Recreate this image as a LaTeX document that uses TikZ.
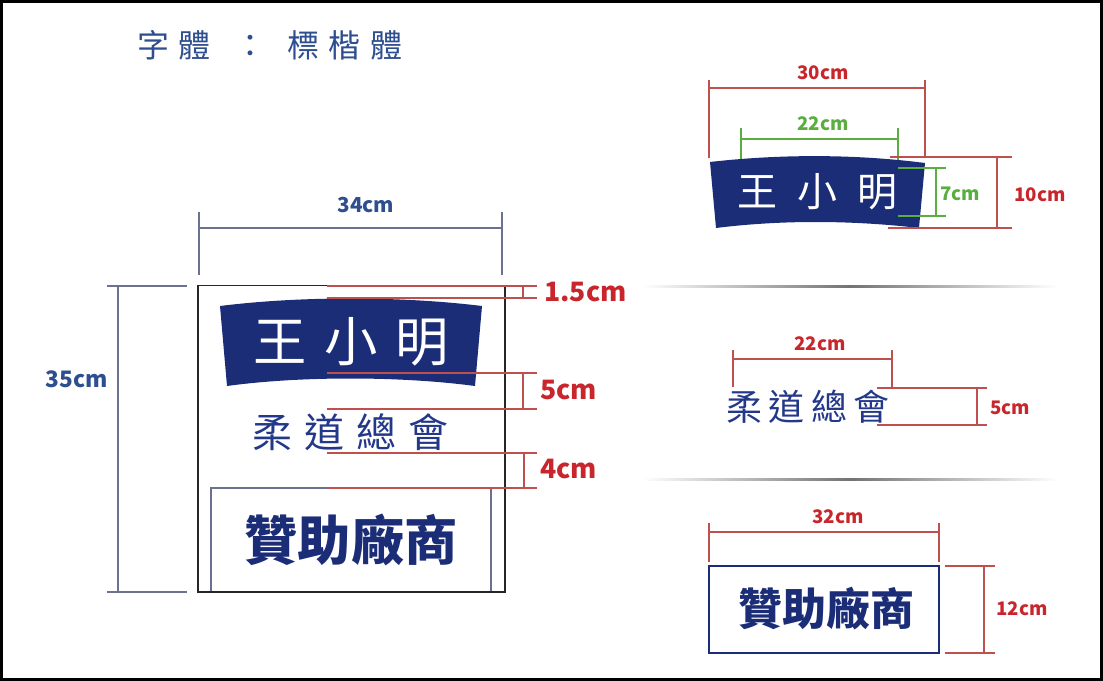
\documentclass[tikz,border=0pt]{standalone}
\usepackage{fontspec}
\newfontfamily\cjk{Noto Sans CJK TC}
\usetikzlibrary{calc}
\definecolor{navy}{HTML}{1C2D78}
\definecolor{txtblue}{HTML}{24388A}
\definecolor{dimblue}{HTML}{2E4F8F}
\definecolor{lineblue}{HTML}{6A7290}
\definecolor{dimred}{HTML}{C8262C}
\definecolor{linered}{HTML}{C0504D}
\definecolor{dimgreen}{HTML}{5AAD3F}
\tikzset{
  redline/.style={draw=linered, line width=0.8pt},
  greenline/.style={draw=dimgreen, line width=0.8pt},
  blueline/.style={draw=lineblue, line width=0.8pt},
  redlab/.style={text=dimred, font=\cjk\bfseries\fontsize{14}{14}\selectfont, inner sep=0pt},
  bigred/.style={text=dimred, font=\cjk\bfseries\fontsize{20}{20}\selectfont, inner sep=0pt},
  greenlab/.style={text=dimgreen, font=\cjk\bfseries\fontsize{14}{14}\selectfont, inner sep=0pt},
  bluelab/.style={text=dimblue, font=\cjk\bfseries\fontsize{16}{16}\selectfont, inner sep=0pt},
  kai/.style={inner sep=0pt},
  titletext/.style={inner sep=0pt, text=dimblue, font=\cjk\fontsize{24}{24}\selectfont},
}
\begin{document}
\begin{tikzpicture}[x=0.75pt,y=-0.75pt]
\useasboundingbox (0,0) rectangle (1103,681);
\fill[white] (0,0) rectangle (1103,681);
\draw[black, line width=1.6pt] (1.5,1.5) rectangle (1101.5,679.5);

% title
\node[titletext] (t1) at (174,45) {字\hspace{7pt}體};
\node[titletext] (t2) at (250,46) {：};
\node[titletext] (t3) at (345,45) {標\hspace{7pt}楷\hspace{7pt}體};

% ---------------- left panel
% 34cm
\draw[blueline] (199,212) -- (199,275);
\draw[blueline] (502,212) -- (502,275);
\draw[blueline] (199,228) -- (502,228);
\node[bluelab, font=\cjk\bfseries\fontsize{15.5}{15.5}\selectfont] (l34) at (366,205) {34cm};
% 35cm
\draw[blueline] (118,286) -- (118,592);
\draw[blueline] (107,286) -- (187,286);
\draw[blueline] (107,592) -- (187,592);
\node[bluelab, font=\cjk\bfseries\fontsize{17}{17}\selectfont] (l35) at (77,379) {35cm};

% main rectangle
\draw[black!85, line width=0.9pt] (198,285.5) rectangle (505,592);
\node[draw=lineblue, line width=0.9pt, minimum width=280*0.75pt, minimum height=104*0.75pt, inner sep=0pt] (spbox) at (351,540) {};
\draw[white, line width=1.2pt] (211,592.8) -- (491,592.8);
\draw[black!85, line width=0.9pt] (198,592) -- (505,592);
\node[kai, text=navy, font=\cjk\bfseries\fontsize{40}{40}\selectfont] (sp1) at (351,540) {贊助廠商};

% banner
\fill[navy] (220,306) .. controls (300,296) and (400,296) .. (482,306) -- (475,386) .. controls (400,376) and (300,376) .. (227,386) -- cycle;
\node[kai, text=white, font=\cjk\fontsize{40}{40}\selectfont] (n1) at (351,342) {王\hspace{13pt}小\hspace{13pt}明};
\node[kai, text=txtblue, font=\cjk\fontsize{30}{30}\selectfont] (a1) at (350,432) {柔\hspace{9pt}道\hspace{9pt}總\hspace{9pt}會};

% red dims left
\draw[redline] (327,286) -- (537,286);
\draw[redline] (327,298) -- (537,298);
\draw[redline] (523,286) -- (523,298);
\node[bigred, anchor=west] (d15) at (544,292) {1.5cm};
\draw[redline] (327,373) -- (537,373);
\draw[redline] (327,409) -- (537,409);
\draw[redline] (523,373) -- (523,409);
\node[bigred, anchor=west] (d5) at (540,390) {5cm};
\draw[redline] (327,453) -- (537,453);
\draw[redline] (327,488) -- (537,488);
\draw[redline] (524,453) -- (524,488);
\node[bigred, anchor=west] (d4) at (540,469) {4cm};

% ---------------- right top
\draw[redline] (709,80) -- (709,158);
\draw[redline] (925,80) -- (925,158);
\draw[redline] (709,88) -- (925,88);
\node[redlab] (r30) at (823,73) {30cm};
\draw[greenline] (741,128) -- (741,170);
\draw[greenline] (898,128) -- (898,168);
\draw[greenline] (741,139) -- (898,139);
\node[greenlab] (g22) at (823,124) {22cm};
\fill[navy] (710,162) .. controls (780,154) and (855,154) .. (925,163) -- (919,228) .. controls (850,220) and (780,220) .. (716,228) -- cycle;
\node[kai, text=white, font=\cjk\fontsize{30}{30}\selectfont] (n2) at (817,192) {王\hspace{15pt}小\hspace{15pt}明};
\draw[greenline] (898,168) -- (946,168);
\draw[greenline] (898,216) -- (946,216);
\draw[greenline] (936,168) -- (936,216);
\node[greenlab] (g7) at (960,194) {7cm};
\draw[redline] (890,157) -- (1012,157);
\draw[redline] (888,228) -- (1012,228);
\draw[redline] (997,157) -- (997,228);
\node[redlab] (r10) at (1040,195) {10cm};

% separators
\shade[left color=white, right color=white, middle color=black!55] (642,285) rectangle (1058,287.5);
\shade[left color=white, right color=white, middle color=black!55] (642,478) rectangle (1058,480.5);

% ---------------- right middle
\draw[redline] (733,350) -- (733,387);
\draw[redline] (892,350) -- (892,388);
\draw[redline] (733,359) -- (892,359);
\node[redlab] (r22) at (820,344) {22cm};
\node[kai, text=txtblue, font=\cjk\fontsize{27}{27}\selectfont] (a2) at (808,407) {柔\hspace{5pt}道\hspace{5pt}總\hspace{5pt}會};
\draw[redline] (877,388) -- (987,388);
\draw[redline] (877,425) -- (987,425);
\draw[redline] (977,388) -- (977,425);
\node[redlab] (r5) at (1010,408) {5cm};

% ---------------- right bottom
\draw[redline] (709,523) -- (709,562);
\draw[redline] (939,523) -- (939,562);
\draw[redline] (709,532) -- (939,532);
\node[redlab] (r32) at (838,517) {32cm};
\node[draw=navy, line width=0.9pt, minimum width=230*0.75pt, minimum height=87*0.75pt, inner sep=0pt] (spbox2) at (824,609.5) {};
\node[kai, text=navy, font=\cjk\bfseries\fontsize{33}{33}\selectfont] (sp2) at (826,609) {贊助廠商};
\draw[redline] (945,566) -- (995,566);
\draw[redline] (945,653) -- (995,653);
\draw[redline] (984,566) -- (984,653);
\node[redlab] (r12) at (1022,609) {12cm};
\end{tikzpicture}
\end{document}
